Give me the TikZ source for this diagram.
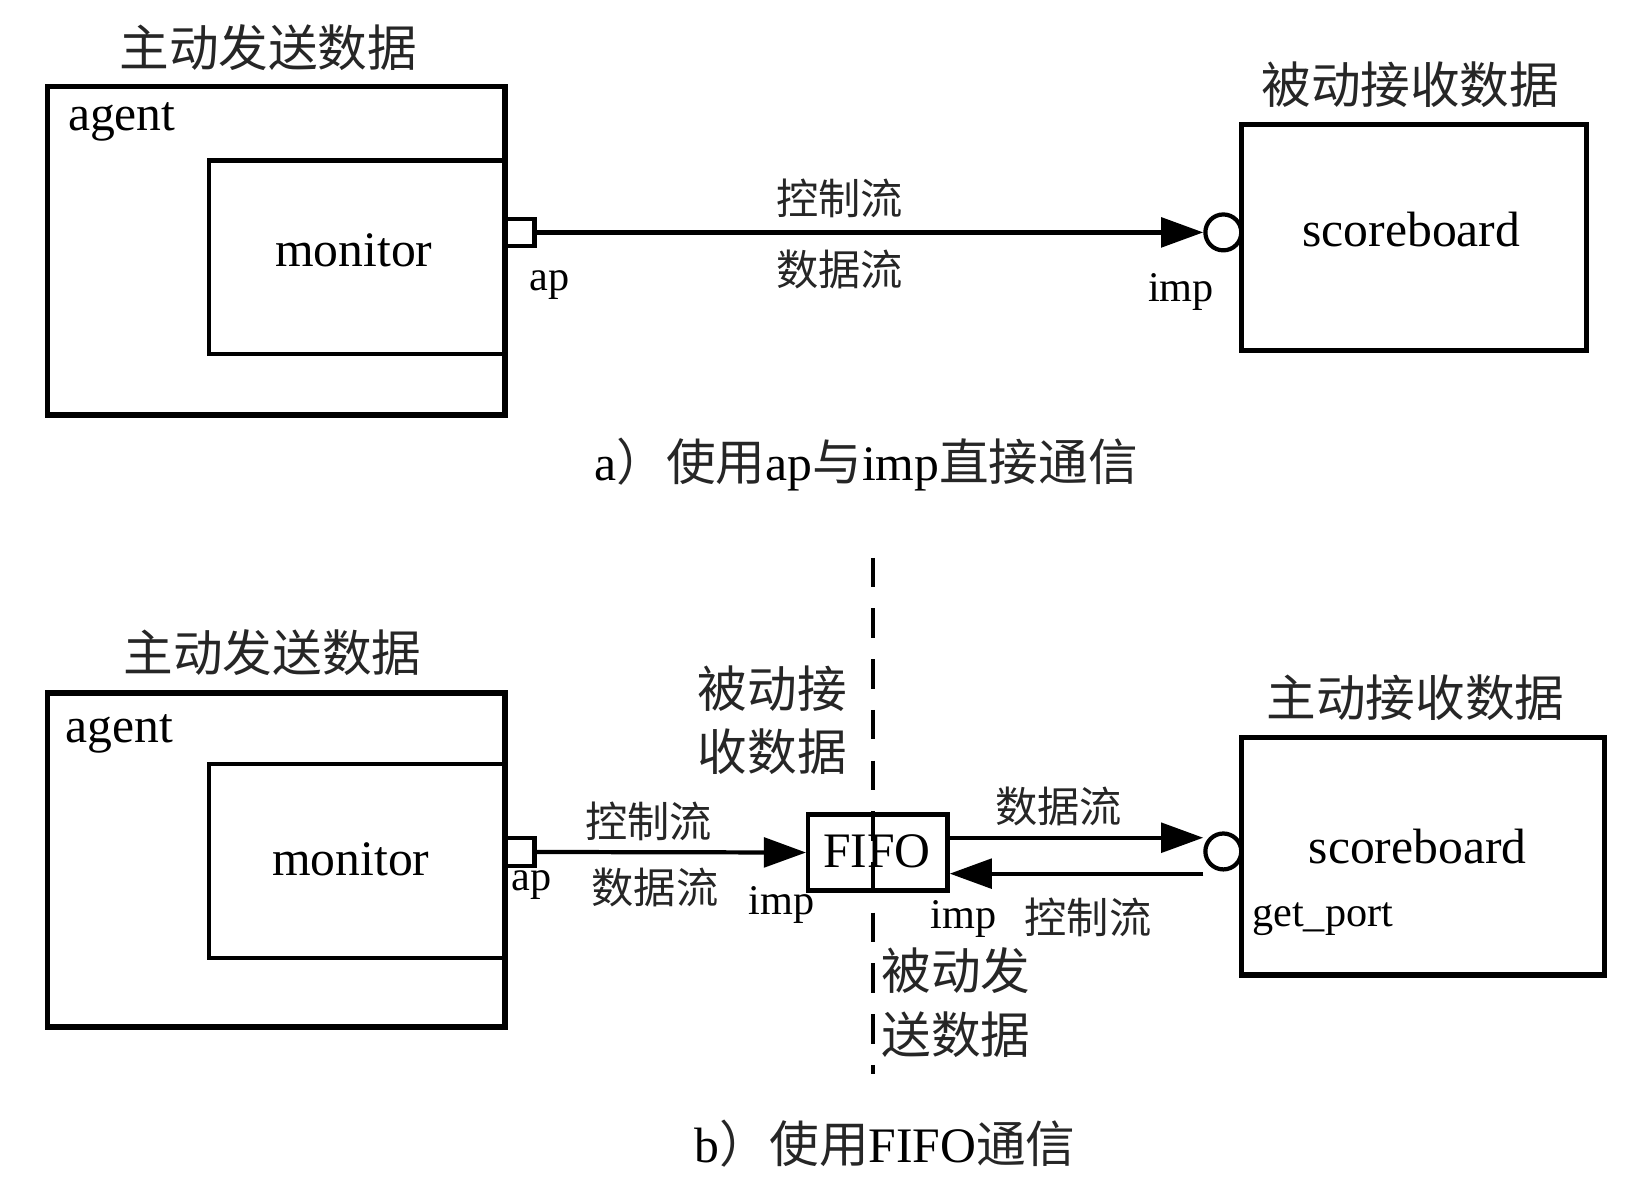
\documentclass[tikz,border=0pt]{standalone}
\usepackage{fontspec}
\setmainfont{Liberation Serif}
\newfontfamily\cjk{Noto Sans CJK SC}
\usetikzlibrary{arrows.meta}
\begin{document}
\begin{tikzpicture}[x=0.5pt,y=-0.5pt,
  bigbox/.style={draw, line width=2.6pt, inner sep=0pt},
  midbox/.style={draw, line width=2pt, inner sep=0pt},
  port/.style={draw, line width=2pt, inner sep=0pt, minimum width=14pt, minimum height=13pt},
  circport/.style={draw, circle, line width=2pt, inner sep=0pt, minimum size=17pt},
  bigtxt/.style={inner sep=0pt, font=\fontsize{23.5}{28}\selectfont},
  smalltxt/.style={inner sep=0pt, font=\fontsize{20}{24}\selectfont},
  cjkbig/.style={inner sep=0pt, text=black!85, font=\fontsize{23.5}{30}\selectfont\cjk},
  cjksmall/.style={inner sep=0pt, text=black!85, font=\fontsize{20}{24}\selectfont\cjk},
  flow/.style={line width=2pt, -{Triangle[length=20pt,width=14pt]}},
  dashline/.style={line width=1.8pt, dash pattern=on 14pt off 10pt}
]
\useasboundingbox (0,0) rectangle (1560,1127);

% ---------------- part a ----------------
\node[cjkbig] (titleA1) at (254,45) {主动发送数据};
\node[bigbox, minimum width=216.5pt, minimum height=155.5pt] (agentA) at (261.5,237.5) {};
\node[bigtxt, anchor=west] (agentAt) at (64,115) {agent};
\node[midbox, minimum width=140pt, minimum height=91.5pt] (monA) at (338,243.5) {};
\node[bigtxt] (monAt) at (335,237) {monitor};
\node[port] (apA) at (492,220) {};
\node[smalltxt] (apAt) at (520,270) {ap};
\node[circport] (impA) at (1158,220) {};
\node[smalltxt] (impAt) at (1118,276) {imp};
\node[bigbox, minimum width=163.5pt, minimum height=107pt] (sbA) at (1338.5,225) {};
\node[bigtxt] (sbAt) at (1336,217) {scoreboard};
\node[cjkbig] (titleA2) at (1335,80) {被动接收数据};
\draw[flow] (apA.east) -- (impA.west);
\node[cjksmall] (ctrlA) at (795,188) {控制流};
\node[cjksmall] (dataA) at (795,255) {数据流};
\node[bigtxt] (capA) at (820,440) {a{\color{black!85}\cjk ）使用}ap{\color{black!85}\cjk 与}imp{\color{black!85}\cjk 直接通信}};

% ---------------- part b ----------------
\node[cjkbig] (titleB1) at (258,618) {主动发送数据};
\node[bigbox, minimum width=216.5pt, minimum height=158pt] (agentB) at (261.5,814) {};
\node[bigtxt, anchor=west] (agentBt) at (62,695) {agent};
\node[midbox, minimum width=140pt, minimum height=92pt] (monB) at (338,815) {};
\node[bigtxt] (monBt) at (332,813) {monitor};
\node[port] (apB) at (492,806.5) {};
\node[smalltxt] (apBt) at (503,838) {ap};
\node[midbox, minimum width=66pt, minimum height=36pt] (fifo) at (831,807) {};
\node[bigtxt] (fifot) at (830,806) {FIFO};
\node[smalltxt] (impB1) at (740,857) {imp};
\draw[flow] (apB.east) -- (fifo.west);
\node[cjksmall] (ctrlB1) at (614,778) {控制流};
\node[cjksmall] (dataB1) at (620,840) {数据流};

\node[cjkbig, align=left] (passrecv) at (731,682) {被动接\\收数据};
\node[cjkbig, align=left] (passsend) at (905,949) {被动发\\送数据};

\node[circport] (circB) at (1158,806) {};
\node[bigbox, minimum width=172pt, minimum height=112.5pt] (sbB) at (1347,810.5) {};
\node[bigtxt] (sbBt) at (1342,801) {scoreboard};
\node[smalltxt, anchor=west] (getport) at (1185,870) {get\_port};
\node[cjkbig] (titleB2) at (1340,660) {主动接收数据};

\draw[flow] ([yshift=7pt]fifo.east) -- ([yshift=6.5pt]circB.west);
\draw[flow] ([yshift=-10.5pt]circB.west) -- ([yshift=-10pt]fifo.east);
\node[cjksmall] (dataB2) at (1002,763) {数据流};
\node[smalltxt] (impB2) at (912,870) {imp};
\node[cjksmall] (ctrlB2) at (1030,868) {控制流};

\coordinate (dtop) at (826,528);
\coordinate (dbot) at (826,1017);
\draw[dashline] (dtop) -- (dbot);

\node[bigtxt] (capB) at (838,1083) {b{\color{black!85}\cjk ）使用}FIFO{\color{black!85}\cjk 通信}};
\end{tikzpicture}
\end{document}
